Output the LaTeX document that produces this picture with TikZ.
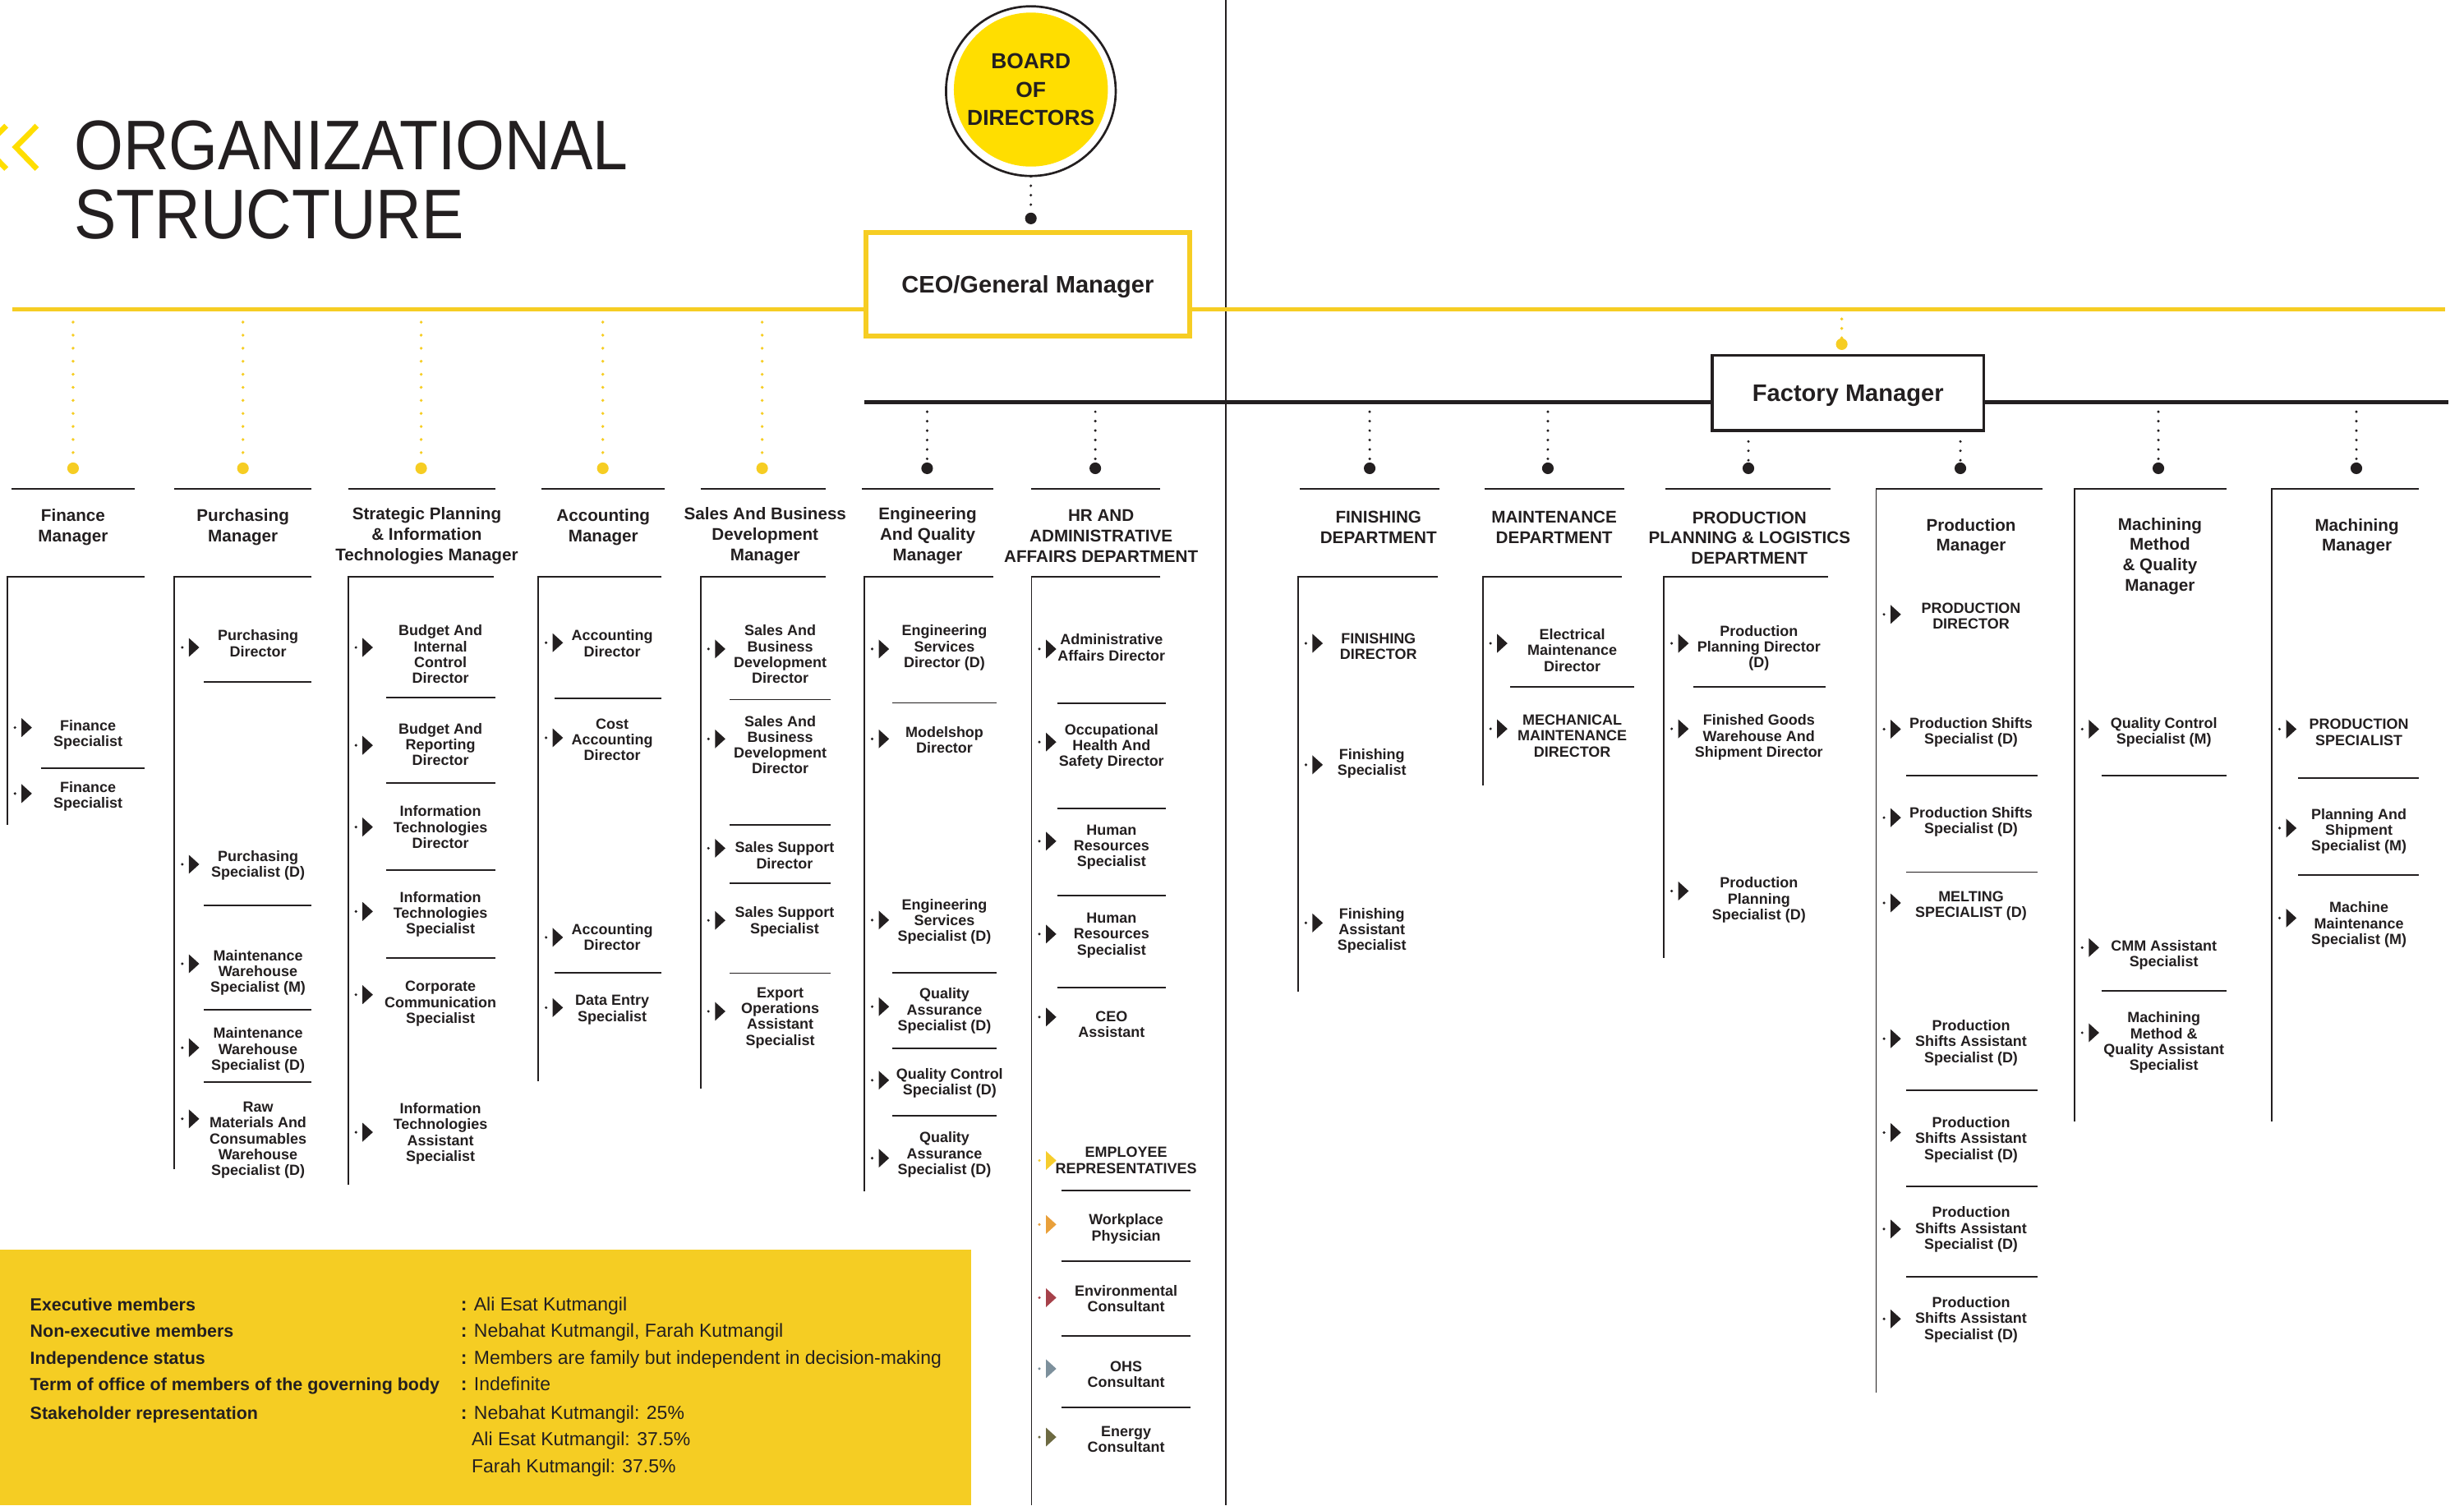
\documentclass[tikz,border=0pt]{standalone}
\usepackage{fontspec}
\setmainfont{Liberation Sans}
\newfontfamily\titlefont[FakeStretch=0.9]{Liberation Sans}
\usetikzlibrary{positioning}

\definecolor{ink}{HTML}{231F20}
\definecolor{boardyellow}{HTML}{FFDE00}
\definecolor{lineyellow}{HTML}{F6CD23}
\definecolor{boxyellow}{HTML}{F5CD23}
\definecolor{repyellow}{HTML}{F6CD2D}
\definecolor{physorange}{HTML}{E9A03A}
\definecolor{envred}{HTML}{A6414A}
\definecolor{ohsgrey}{HTML}{7D909C}
\definecolor{energyolive}{HTML}{6D6A42}

\newcommand\cellfont{\fontsize{9.4}{10.1}\selectfont\bfseries}
\newcommand\deptfont{\fontsize{10.8}{13}\selectfont\bfseries}

\begin{document}
\begin{tikzpicture}[
    x=1pt, y=-1pt,
    every node/.style={text=ink, inner sep=0pt},
    cell/.style={align=center, font=\cellfont},
    dept/.style={align=center, font=\deptfont},
    rule/.style={draw=ink, line width=1pt},
    ydrop/.style={draw=lineyellow, line width=2pt, line cap=round, dash pattern=on 0pt off 8.3pt},
    bdrop/.style={draw=ink, line width=1.8pt, line cap=round, dash pattern=on 0pt off 6pt},
    ydot/.style={circle, fill=lineyellow, minimum size=7.4pt},
    bdot/.style={circle, fill=ink, minimum size=7.4pt},
    infolabel/.style={anchor=base west, font=\fontsize{11.2}{13}\selectfont\bfseries},
    infovalue/.style={anchor=base west, font=\fontsize{12}{13}\selectfont},
    pics/pointer/.style={code={
        \fill[#1] (0,0) circle[radius=0.9pt];
        \fill[#1] (4.2pt,-6pt) -- (10.8pt,0pt) -- (4.2pt,6pt) -- cycle;}},
    pics/pointer/.default=ink
]
\useasboundingbox (0,0) rectangle (1568,958);

\draw[boardyellow, line width=3.5pt] (23.5,80) -- (10,93.6) -- (23.5,107.5);
\draw[boardyellow, line width=3.5pt] (4,80) -- (-9.5,93.6) -- (4,107.5);
\node[anchor=base west, font=\titlefont\fontsize{44.7}{44}\selectfont] (title1) at (47,108) {ORGANIZATIONAL};
\node[anchor=base west, font=\titlefont\fontsize{44.7}{44}\selectfont] (title2) at (47,152) {STRUCTURE};

\draw[ink, line width=1.2pt] (780,0) -- (780,958);

\coordinate (yl-west) at (8,197);
\coordinate (yl-east) at (1556,197);
\coordinate (bl-west) at (550,256);
\coordinate (bl-east) at (1558,256);

\node[circle, fill=boardyellow, minimum size=98pt, align=center,
      font=\fontsize{13.8}{18}\selectfont\bfseries] (board) at (656,57) {BOARD\\OF\\DIRECTORS};
\draw[ink, line width=1.4pt] (board.center) ++(0,1) circle[radius=54pt];
\node[bdot] (ceo-dot) at (656,139) {};
\draw[bdrop] (ceo-dot |- board.south) ++(0,6) -- (ceo-dot);

\node[draw=lineyellow, line width=3pt, fill=white, minimum width=206pt, minimum height=66pt, text depth=0pt,
      font=\fontsize{15.2}{18}\selectfont\bfseries] (ceo) at (654,181) {CEO/General Manager};
\draw[lineyellow, line width=2.8pt] (yl-west) -- (yl-west -| ceo.west);
\draw[lineyellow, line width=2.8pt] (yl-east -| ceo.east) -- (yl-east);

\node[draw=ink, line width=1.8pt, fill=white, minimum width=173pt, minimum height=48pt, text depth=0pt,
      font=\fontsize{15.2}{18}\selectfont\bfseries] (fac) at (1176,250) {Factory Manager};
\draw[ink, line width=2.8pt] (bl-west) -- (bl-west -| fac.west);
\draw[ink, line width=2.8pt] (bl-east -| fac.east) -- (bl-east);
\node[ydot] (fac-dot) at (1172,219) {};
\draw[ydrop, dash pattern=on 0pt off 6pt] (fac-dot |- yl-west) ++(0,6) -- (fac-dot);

\node[ydot] (finmgr-dot) at (46.5,298) {};
\node[ydot] (purmgr-dot) at (154.6,298) {};
\node[ydot] (strmgr-dot) at (268,298) {};
\node[ydot] (accmgr-dot) at (383.6,298) {};
\node[ydot] (salmgr-dot) at (485,298) {};
\draw[ydrop] (finmgr-dot |- yl-west) ++(0,8) -- (finmgr-dot);
\draw[ydrop] (purmgr-dot |- yl-west) ++(0,8) -- (purmgr-dot);
\draw[ydrop] (strmgr-dot |- yl-west) ++(0,8) -- (strmgr-dot);
\draw[ydrop] (accmgr-dot |- yl-west) ++(0,8) -- (accmgr-dot);
\draw[ydrop] (salmgr-dot |- yl-west) ++(0,8) -- (salmgr-dot);

\node[bdot] (engmgr-dot) at (590,298) {};
\node[bdot] (hrdept-dot) at (697,298) {};
\node[bdot] (fshdept-dot) at (871.6,298) {};
\node[bdot] (mntdept-dot) at (985,298) {};
\node[bdot] (ppldept-dot) at (1112.6,298) {};
\node[bdot] (prdmgr-dot) at (1247.5,298) {};
\node[bdot] (mmqmgr-dot) at (1373.5,298) {};
\node[bdot] (mchmgr-dot) at (1499.5,298) {};
\draw[bdrop] (engmgr-dot |- bl-west) ++(0,6) -- (engmgr-dot);
\draw[bdrop] (hrdept-dot |- bl-west) ++(0,6) -- (hrdept-dot);
\draw[bdrop] (fshdept-dot |- bl-west) ++(0,6) -- (fshdept-dot);
\draw[bdrop] (mntdept-dot |- bl-west) ++(0,6) -- (mntdept-dot);
\draw[bdrop] (ppldept-dot |- fac.south) ++(0,6) -- (ppldept-dot);
\draw[bdrop] (prdmgr-dot |- fac.south) ++(0,6) -- (prdmgr-dot);
\draw[bdrop] (mmqmgr-dot |- bl-west) ++(0,6) -- (mmqmgr-dot);
\draw[bdrop] (mchmgr-dot |- bl-west) ++(0,6) -- (mchmgr-dot);

\draw[rule] (7.5,311) -- (86,311);
\node[dept] (finmgr) at (46.5,335.5) {Finance\\Manager};
\draw[rule] (92,367) -| (4.5,525);
\node[cell] (fin1) at (56,467.5) {Finance\\Specialist}; \pic at (9.5,463) {pointer};
\draw[rule] (26,489) -- (92,489);
\node[cell] (fin2) at (56,506.7) {Finance\\Specialist}; \pic at (9.5,505) {pointer};

\draw[rule] (110.7,311) -- (198.4,311);
\node[dept] (purmgr) at (154.6,335.5) {Purchasing\\Manager};
\draw[rule] (198.4,367) -| (111,744);
\node[cell] (pur1) at (164.2,409.5) {Purchasing\\Director}; \pic at (116,412) {pointer};
\draw[rule] (129.7,434) -- (198.4,434);
\node[cell] (pur2) at (164.2,550.6) {Purchasing\\Specialist (D)}; \pic at (116,550) {pointer};
\draw[rule] (129.7,576.4) -- (198.4,576.4);
\node[cell] (pur3) at (164.2,619) {Maintenance\\Warehouse\\Specialist (M)}; \pic at (116,613.3) {pointer};
\draw[rule] (129.7,642.7) -- (198.4,642.7);
\node[cell] (pur4) at (164.2,668.5) {Maintenance\\Warehouse\\Specialist (D)}; \pic at (116,666.7) {pointer};
\draw[rule] (129.7,688.6) -- (198.4,688.6);
\node[cell] (pur5) at (164.2,725.6) {Raw\\Materials And\\Consumables\\Warehouse\\Specialist (D)}; \pic at (116,712) {pointer};

\draw[rule] (221.5,311) -- (315.2,311);
\node[dept] (strmgr) at (271.6,341) {Strategic Planning\\\& Information\\Technologies Manager};
\draw[rule] (314,367) -| (221.5,754);
\node[cell] (str1) at (280.3,416.4) {Budget And\\Internal\\Control\\Director}; \pic at (226.5,412) {pointer};
\draw[rule] (245.8,443.7) -- (315.2,443.7);
\node[cell] (str2) at (280.3,473.7) {Budget And\\Reporting\\Director}; \pic at (226.5,474.3) {pointer};
\draw[rule] (245.8,498.3) -- (315.2,498.3);
\node[cell] (str3) at (280.3,526.3) {Information\\Technologies\\Director}; \pic at (226.5,526.3) {pointer};
\draw[rule] (245.8,553.6) -- (315.2,553.6);
\node[cell] (str4) at (280.3,581.8) {Information\\Technologies\\Specialist}; \pic at (226.5,580) {pointer};
\draw[rule] (245.8,609.4) -- (315.2,609.4);
\node[cell] (str5) at (280.3,638.8) {Corporate\\Communication\\Specialist}; \pic at (226.5,633) {pointer};
\node[cell] (str6) at (280.3,721.4) {Information\\Technologies\\Assistant\\Specialist}; \pic at (226.5,720.5) {pointer};

\draw[rule] (344.6,311) -- (423.2,311);
\node[dept] (accmgr) at (383.9,335.5) {Accounting\\Manager};
\draw[rule] (421,367) -| (342.5,688);
\node[cell] (acc1) at (389.6,409.5) {Accounting\\Director}; \pic at (347.5,409) {pointer};
\draw[rule] (352.7,444.6) -- (421,444.6);
\node[cell] (acc2) at (389.6,470.7) {Cost\\Accounting\\Director}; \pic at (347.5,469.5) {pointer};
\node[cell] (acc3) at (389.6,596.5) {Accounting\\Director}; \pic at (347.5,596.5) {pointer};
\draw[rule] (352.7,619) -- (421,619);
\node[cell] (acc4) at (389.6,642.7) {Data Entry\\Specialist}; \pic at (347.5,641.2) {pointer};

\draw[rule] (445.8,311) -- (525.2,311);
\node[dept] (salmgr) at (486.9,341) {Sales And Business\\Development\\Manager};
\draw[rule] (525.2,367) -| (445.8,692.5);
\node[cell] (sal1) at (496.5,416.4) {Sales And\\Business\\Development\\Director}; \pic at (450.8,413) {pointer};
\draw[rule] (464.5,445.2) -- (528.4,445.2);
\node[cell] (sal2) at (496.5,474) {Sales And\\Business\\Development\\Director}; \pic at (450.8,470.2) {pointer};
\draw[rule] (464.5,524.8) -- (528.4,524.8);
\node[cell] (sal3) at (499.3,544.3) {Sales Support\\Director}; \pic at (450.8,539.8) {pointer};
\draw[rule] (464.5,562) -- (528.4,562);
\node[cell] (sal4) at (499.3,586.6) {Sales Support\\Specialist}; \pic at (450.8,585.7) {pointer};
\draw[rule] (464.5,619.3) -- (528.4,619.3);
\node[cell] (sal5) at (496.5,647.8) {Export\\Operations\\Assistant\\Specialist}; \pic at (450.8,643.6) {pointer};

\draw[rule] (548.5,311) -- (632,311);
\node[dept] (engmgr) at (590.3,341) {Engineering\\And Quality\\Manager};
\draw[rule] (632,367) -| (550,758);
\node[cell] (eng1) at (601,412.2) {Engineering\\Services\\Director (D)}; \pic at (555,413) {pointer};
\draw[rule] (568,447.3) -- (634,447.3);
\node[cell] (eng2) at (601,470.7) {Modelshop\\Director}; \pic at (555,470.2) {pointer};
\node[cell] (eng3) at (601,586.6) {Engineering\\Services\\Specialist (D)}; \pic at (555,585.5) {pointer};
\draw[rule] (568,619) -- (634,619);
\node[cell] (eng4) at (601,643.3) {Quality\\Assurance\\Specialist (D)}; \pic at (555,640.6) {pointer};
\draw[rule] (568,667) -- (634,667);
\node[cell] (eng5) at (604.3,689.2) {Quality Control\\Specialist (D)}; \pic at (555,687.4) {pointer};
\draw[rule] (568,710.2) -- (634,710.2);
\node[cell] (eng6) at (601,734.9) {Quality\\Assurance\\Specialist (D)}; \pic at (555,737) {pointer};

\draw[rule] (655.9,311) -- (738.5,311);
\node[dept] (hrdept) at (700.7,341) {HR AND\\ADMINISTRATIVE\\AFFAIRS DEPARTMENT};
\draw[rule] (738.5,367) -| (656.4,958);
\node[cell] (hr1) at (707.3,412) {Administrative\\Affairs Director}; \pic at (661.4,413) {pointer};
\draw[rule] (672.7,447.6) -- (742,447.6);
\node[cell] (hr2) at (707.3,475.2) {Occupational\\Health And\\Safety Director}; \pic at (661.4,472.2) {pointer};
\draw[rule] (672.7,514.5) -- (742,514.5);
\node[cell] (hr3) at (707.3,539.2) {Human\\Resources\\Specialist}; \pic at (661.4,535.3) {pointer};
\draw[rule] (672.7,569.8) -- (742,569.8);
\node[cell] (hr4) at (707.3,595.3) {Human\\Resources\\Specialist}; \pic at (661.4,594.4) {pointer};
\draw[rule] (672.7,628.3) -- (742,628.3);
\node[cell] (hr5) at (707.3,652) {CEO\\Assistant}; \pic at (661.4,647.2) {pointer};
\node[cell] (hr6) at (716.6,738.4) {EMPLOYEE\\REPRESENTATIVES}; \pic at (661.4,738.5) {pointer=repyellow};
\draw[rule] (675.3,757.4) -- (757.4,757.4);
\node[cell] (hr7) at (716.6,782.1) {Workplace\\Physician}; \pic at (661.4,779.2) {pointer=physorange};
\draw[rule] (675.3,802.6) -- (757.4,802.6);
\node[cell] (hr8) at (716.6,826.4) {Environmental\\Consultant}; \pic at (661.4,825.8) {pointer=envred};
\draw[rule] (675.3,850.2) -- (757.4,850.2);
\node[cell] (hr9) at (716.6,874.7) {OHS\\Consultant}; \pic at (661.4,871) {pointer=ohsgrey};
\draw[rule] (675.3,895.6) -- (757.4,895.6);
\node[cell] (hr10) at (716.6,916) {Energy\\Consultant}; \pic at (661.4,914.5) {pointer=energyolive};

\draw[rule] (827.2,311) -- (916.2,311);
\node[dept] (fshdept) at (877.2,335.6) {FINISHING\\DEPARTMENT};
\draw[rule] (914.7,367) -| (826.1,631);
\node[cell] (fsh1) at (877.2,411.3) {FINISHING\\DIRECTOR}; \pic at (831,409.4) {pointer};
\node[cell] (fsh2) at (873,486) {Finishing\\Specialist}; \pic at (831,486.7) {pointer};
\node[cell] (fsh3) at (873,592.2) {Finishing\\Assistant\\Specialist}; \pic at (831,587.3) {pointer};

\draw[rule] (944.5,311) -- (1033.5,311);
\node[dept] (mntdept) at (989,335.6) {MAINTENANCE\\DEPARTMENT};
\draw[rule] (1032,367) -| (943.5,500);
\node[cell] (mnt1) at (1000.5,413.7) {Electrical\\Maintenance\\Director}; \pic at (948.5,409.4) {pointer};
\draw[rule] (961.2,437.2) -- (1040,437.2);
\node[cell] (mnt2) at (1000.5,468.3) {MECHANICAL\\MAINTENANCE\\DIRECTOR}; \pic at (948.5,463.8) {pointer};

\draw[rule] (1060,311) -- (1165,311);
\node[dept] (ppldept) at (1113.3,342.3) {PRODUCTION\\PLANNING \& LOGISTICS\\DEPARTMENT};
\draw[rule] (1163.3,367) -| (1058.8,609.5);
\node[cell] (ppl1) at (1119.3,412.5) {Production\\Planning Director\\(D)}; \pic at (1063.8,409.4) {pointer};
\draw[rule] (1077.7,437.2) -- (1161.8,437.2);
\node[cell] (ppl2) at (1119.3,469.2) {Finished Goods\\Warehouse And\\Shipment Director}; \pic at (1063.8,463.8) {pointer};
\node[cell] (ppl3) at (1119.3,572.8) {Production\\Planning\\Specialist (D)}; \pic at (1063.8,567) {pointer};

\draw[rule] (1300,311) -| (1193.9,886.4);
\node[dept] (prdmgr) at (1254.3,341.5) {Production\\Manager};
\node[cell] (prd1) at (1254.3,392.1) {PRODUCTION\\DIRECTOR}; \pic at (1198.9,391) {pointer};
\node[cell] (prd2) at (1254.3,466) {Production Shifts\\Specialist (D)}; \pic at (1198.9,464) {pointer};
\draw[rule] (1212.9,493.6) -- (1296.5,493.6);
\node[cell] (prd3) at (1254.3,522.9) {Production Shifts\\Specialist (D)}; \pic at (1198.9,520.3) {pointer};
\draw[rule] (1212.9,555) -- (1296.5,555);
\node[cell] (prd4) at (1254.3,576.3) {MELTING\\SPECIALIST (D)}; \pic at (1198.9,574.6) {pointer};
\node[cell] (prd5) at (1254.3,663.5) {Production\\Shifts Assistant\\Specialist (D)}; \pic at (1198.9,661) {pointer};
\draw[rule] (1212.9,694) -- (1296.5,694);
\node[cell] (prd6) at (1254.3,725.3) {Production\\Shifts Assistant\\Specialist (D)}; \pic at (1198.9,720.7) {pointer};
\draw[rule] (1212.9,755) -- (1296.5,755);
\node[cell] (prd7) at (1254.3,782.5) {Production\\Shifts Assistant\\Specialist (D)}; \pic at (1198.9,782.1) {pointer};
\draw[rule] (1212.9,812.6) -- (1296.5,812.6);
\node[cell] (prd8) at (1254.3,839.7) {Production\\Shifts Assistant\\Specialist (D)}; \pic at (1198.9,839.3) {pointer};

\draw[rule] (1416.9,311) -| (1320,713.6);
\node[dept] (mmqmgr) at (1374.5,354) {Machining\\Method\\\& Quality\\Manager};
\node[cell] (mmq1) at (1377,466) {Quality Control\\Specialist (M)}; \pic at (1325,464) {pointer};
\draw[rule] (1337.2,493.6) -- (1416.9,493.6);
\node[cell] (mmq2) at (1377,607.6) {CMM Assistant\\Specialist}; \pic at (1325,603) {pointer};
\draw[rule] (1337.2,630.6) -- (1416.9,630.6);
\node[cell] (mmq3) at (1377,663.5) {Machining\\Method \&\\Quality Assistant\\Specialist}; \pic at (1325,657.2) {pointer};

\draw[rule] (1539.1,311) -| (1445.6,713.6);
\node[dept] (mchmgr) at (1499.8,341.5) {Machining\\Manager};
\node[cell] (mch1) at (1501.1,466) {PRODUCTION\\SPECIALIST}; \pic at (1450.6,464) {pointer};
\draw[rule] (1462.4,494.9) -- (1539.1,494.9);
\node[cell] (mch2) at (1501.1,529.1) {Planning And\\Shipment\\Specialist (M)}; \pic at (1450.6,527) {pointer};
\draw[rule] (1462.4,556.7) -- (1539.1,556.7);
\node[cell] (mch3) at (1501.1,588.4) {Machine\\Maintenance\\Specialist (M)}; \pic at (1450.6,584.2) {pointer};

\fill[boxyellow] (0,795) rectangle (618,958);
\node[infolabel] (lab-exec) at (19,834) {Executive members};
\node[infolabel] (lab-nonexec) at (19,851) {Non-executive members};
\node[infolabel] (lab-indep) at (19,868) {Independence status};
\node[infolabel] (lab-term) at (19,885) {Term of office of members of the governing body};
\node[infolabel] (lab-stake) at (19,903) {Stakeholder representation};
\node[infovalue] (val-exec) at (293,834) {\textbf{:} Ali Esat Kutmangil};
\node[infovalue] (val-nonexec) at (293,851) {\textbf{:} Nebahat Kutmangil, Farah Kutmangil};
\node[infovalue] (val-indep) at (293,868) {\textbf{:} Members are family but independent in decision-making};
\node[infovalue] (val-term) at (293,885) {\textbf{:} Indefinite};
\node[infovalue] (val-stake) at (293,903) {\textbf{:} Nebahat Kutmangil: 25\%};
\node[infovalue] (val-stake2) at (300,920) {Ali Esat Kutmangil: 37.5\%};
\node[infovalue] (val-stake3) at (300,937) {Farah Kutmangil: 37.5\%};

\end{tikzpicture}
\end{document}
